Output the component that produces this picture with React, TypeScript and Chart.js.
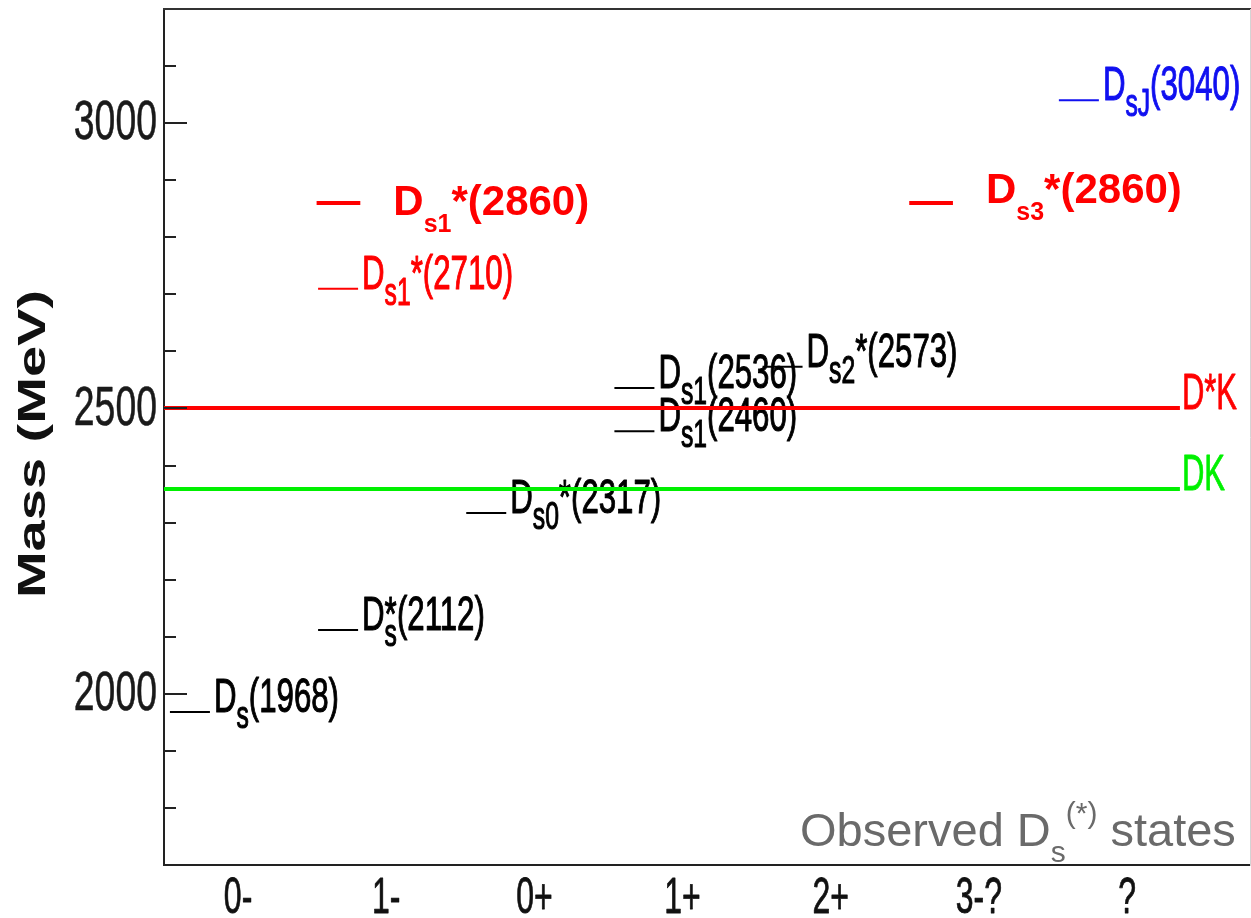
import React, { useEffect, useRef } from 'react';
import { Chart, registerables } from 'chart.js';

Chart.register(...registerables);

// ---------- data ----------
const categories = ['0-', '1-', '0+', '1+', '2+', '3-?', '?'];
const yMajorTicks = [2000, 2500, 3000];
const yMinorTicks = [1800, 1900, 2100, 2200, 2300, 2400, 2600, 2700, 2800, 2900, 3100];

const stateLabels = [
  'D_{s}(1968)',
  'D^{*}_{s}(2112)',
  'D_{s0}*(2317)',
  'D_{s1}(2460)',
  'D_{s1}(2536)',
  'D_{s2}*(2573)',
  'D_{s1}*(2710)',
  'D_{s1}*(2860)',
  'D_{s3}*(2860)',
  'D_{sJ}(3040)',
];
const stateMasses = [1968, 2112, 2317, 2460, 2536, 2573, 2710, 2860, 2860, 3040];
const stateCategory = [0, 1, 2, 3, 3, 4, 1, 1, 5, 6];

const thresholdLabels = ['D*K', 'DK'];
const thresholdMasses = [2501, 2359];

const yAxisTitle = 'Mass (MeV)';
const noteText = 'Observed D_{s}^{(*)} states';

// ---------- styles ----------
const stateColors = ['#000000', '#000000', '#000000', '#000000', '#000000', '#000000', '#ff0000', '#ff0000', '#ff0000', '#1010f0'];
const stateBold = [false, false, false, false, false, false, false, true, true, false];
const stateLabelDy = [0, 0, 0, 0, 0, 0, 0, 12, 0, 0];
const thresholdColors = ['#ff0000', '#00f000'];

const FAMILY = '"Liberation Sans", Arial, Helvetica, sans-serif';

type RichStyle = {
  weight: string;
  size: number;
  sx: number;
  subSize: number;
  subDrop: number;
  supSize: number;
  supRise: number;
  color: string;
  stroke: number;
};

const CONDENSED = { weight: 'normal', size: 48, sx: 0.65, subSize: 38, subDrop: 16, supSize: 48, supRise: 0, stroke: 1.1 };
const BOLDSTYLE = { weight: 'bold', size: 42, sx: 1, subSize: 25, subDrop: 17, supSize: 42, supRise: 0, stroke: 0 };
const NOTESTYLE = { weight: 'normal', size: 47, sx: 1, subSize: 30, subDrop: 16, supSize: 30, supRise: 23, stroke: 0 };

type Seg = { t: string; kind: 'n' | 'sub' | 'sup' };

function parseRich(s: string): Seg[] {
  const out: Seg[] = [];
  let buf = '';
  let i = 0;
  while (i < s.length) {
    const c = s[i];
    if ((c === '_' || c === '^') && s[i + 1] === '{') {
      if (buf) {
        out.push({ t: buf, kind: 'n' });
        buf = '';
      }
      const end = s.indexOf('}', i);
      out.push({ t: s.slice(i + 2, end), kind: c === '_' ? 'sub' : 'sup' });
      i = end + 1;
    } else {
      buf += c;
      i++;
    }
  }
  if (buf) out.push({ t: buf, kind: 'n' });
  return out;
}

function paintText(ctx: CanvasRenderingContext2D, t: string, x: number, y: number, stroke: number) {
  ctx.fillText(t, x, y);
  if (stroke > 0) {
    ctx.lineWidth = stroke;
    ctx.lineJoin = 'round';
    ctx.strokeText(t, x, y);
  }
}

function drawRich(ctx: CanvasRenderingContext2D, text: string, x: number, y: number, st: RichStyle) {
  const segs = parseRich(text);
  ctx.save();
  ctx.translate(x, y);
  ctx.scale(st.sx, 1);
  ctx.fillStyle = st.color;
  ctx.strokeStyle = st.color;
  ctx.textAlign = 'left';
  ctx.textBaseline = 'alphabetic';
  let cx = 0;
  let scriptStart = 0;
  let scriptEnd = 0;
  let prev: string | null = null;
  for (const seg of segs) {
    if (seg.kind === 'n') {
      if (prev === 'sub' || prev === 'sup') cx = scriptEnd;
      ctx.font = `${st.weight} ${st.size}px ${FAMILY}`;
      paintText(ctx, seg.t, cx, 0, st.stroke);
      cx += ctx.measureText(seg.t).width;
      scriptEnd = cx;
    } else {
      if (prev === 'sup' && seg.kind === 'sub') {
        cx = scriptStart;
      } else {
        if (prev === 'sub' || prev === 'sup') cx = scriptEnd;
        scriptStart = cx;
        scriptEnd = cx;
      }
      const size = seg.kind === 'sub' ? st.subSize : st.supSize;
      const dy = seg.kind === 'sub' ? st.subDrop : -st.supRise;
      ctx.font = `${st.weight} ${size}px ${FAMILY}`;
      paintText(ctx, seg.t, cx, dy, st.stroke);
      cx += ctx.measureText(seg.t).width;
      scriptEnd = Math.max(scriptEnd, cx);
    }
    prev = seg.kind;
  }
  ctx.restore();
}

function drawCondensed(
  ctx: CanvasRenderingContext2D,
  text: string,
  x: number,
  y: number,
  size: number,
  sx: number,
  align: CanvasTextAlign,
  baseline: CanvasTextBaseline,
  color: string,
  stroke = 0,
  weight = 'normal'
) {
  ctx.save();
  ctx.translate(x, y);
  ctx.scale(sx, 1);
  ctx.font = `${weight} ${size}px ${FAMILY}`;
  ctx.fillStyle = color;
  ctx.strokeStyle = color;
  ctx.textAlign = align;
  ctx.textBaseline = baseline;
  paintText(ctx, text, 0, 0, stroke);
  ctx.restore();
}

const N_STATES = stateMasses.length;

const labelPlugin = {
  id: 'levelLabels',
  beforeDatasetsDraw(chart: any) {
    const ctx: CanvasRenderingContext2D = chart.ctx;
    for (let i = 0; i < N_STATES; i++) {
      const meta = chart.getDatasetMeta(i);
      const end = meta.data[1];
      if (!end) continue;
      if (stateBold[i]) {
        drawRich(ctx, stateLabels[i], end.x + 33, end.y + stateLabelDy[i], { ...BOLDSTYLE, color: stateColors[i] });
      } else {
        drawRich(ctx, stateLabels[i], end.x + 4, end.y + stateLabelDy[i], { ...CONDENSED, color: stateColors[i] });
      }
    }
    for (let j = 0; j < thresholdMasses.length; j++) {
      const meta = chart.getDatasetMeta(N_STATES + j);
      const end = meta.data[1];
      if (!end) continue;
      drawCondensed(ctx, thresholdLabels[j], end.x + 2, end.y + 1, 50, 0.62, 'left', 'alphabetic', thresholdColors[j], 0.9);
    }
  },
  afterDraw(chart: any) {
    const ctx: CanvasRenderingContext2D = chart.ctx;
    const ys = chart.scales.y;
    const xs = chart.scales.x;
    const area = chart.chartArea;
    ctx.save();
    ctx.strokeStyle = '#222222';
    ctx.lineWidth = 2;
    for (const v of yMinorTicks) {
      const py = Math.round(ys.getPixelForValue(v));
      ctx.beginPath();
      ctx.moveTo(area.left, py);
      ctx.lineTo(area.left + 12, py);
      ctx.stroke();
    }
    for (const v of yMajorTicks) {
      const py = Math.round(ys.getPixelForValue(v));
      ctx.beginPath();
      ctx.moveTo(area.left, py);
      ctx.lineTo(area.left + 23, py);
      ctx.stroke();
    }
    ctx.restore();
    for (const v of yMajorTicks) {
      drawCondensed(ctx, String(v), area.left - 7, ys.getPixelForValue(v) + 1, 55, 0.68, 'right', 'middle', '#1a1a1a', 0.6);
    }
    categories.forEach((c, i) => {
      drawCondensed(ctx, c, xs.getPixelForValue(i), area.bottom + 48, 50, 0.64, 'center', 'alphabetic', '#111111', 0.8);
    });
    ctx.save();
    ctx.translate(35, 444);
    ctx.scale(0.68, 1);
    ctx.rotate(-Math.PI / 2);
    ctx.font = `bold 56px ${FAMILY}`;
    ctx.fillStyle = '#111111';
    ctx.textAlign = 'center';
    ctx.textBaseline = 'middle';
    ctx.fillText(yAxisTitle, 0, 0);
    ctx.restore();
    drawRich(ctx, noteText, 800, 846, { ...NOTESTYLE, color: '#6a6a6a' });
  },
};

export default function App() {
  const ref = useRef<HTMLCanvasElement>(null);

  useEffect(() => {
    const canvas = ref.current;
    if (!canvas) return;

    const stateDatasets = stateMasses.map((m, i) => {
      const c = stateCategory[i];
      const bold = stateBold[i];
      return {
        type: 'line' as const,
        label: stateLabels[i],
        data: [
          { x: c + (bold ? -0.47 : -0.46), y: m },
          { x: c + (bold ? -0.175 : -0.19), y: m },
        ],
        borderColor: stateColors[i],
        backgroundColor: stateColors[i],
        borderWidth: bold ? 4 : 2,
        borderCapStyle: 'butt' as const,
        pointRadius: 0,
        xAxisID: 'x',
        yAxisID: 'y',
      };
    });

    const thresholdDatasets = thresholdMasses.map((m, j) => ({
      type: 'line' as const,
      label: thresholdLabels[j],
      data: [
        { x: -0.5, y: m },
        { x: 6.357, y: m },
      ],
      borderColor: thresholdColors[j],
      backgroundColor: thresholdColors[j],
      borderWidth: 4,
      borderCapStyle: 'butt' as const,
      pointRadius: 0,
      xAxisID: 'x',
      yAxisID: 'y',
    }));

    const hidden = { display: false };
    const chart = new Chart(canvas, {
      type: 'line',
      data: { datasets: [...stateDatasets, ...thresholdDatasets] as any },
      options: {
        animation: false,
        responsive: false,
        events: [],
        layout: { padding: { left: 164, top: 9, right: 1, bottom: 53 } },
        plugins: { legend: { display: false }, tooltip: { enabled: false } },
        scales: {
          x: {
            type: 'linear',
            position: 'bottom',
            min: -0.5,
            max: 6.83,
            grid: { display: false, drawTicks: false },
            ticks: { display: false },
            border: { display: true, color: '#222222', width: 2 },
          },
          y: {
            type: 'linear',
            position: 'left',
            min: 1700,
            max: 3200,
            grid: { display: false, drawTicks: false },
            ticks: { display: false },
            border: { display: true, color: '#222222', width: 2 },
          },
          xTop: {
            type: 'linear',
            axis: 'x',
            position: 'top',
            grid: { display: false, drawTicks: false },
            ticks: { display: false },
            title: hidden,
            border: { display: true, color: '#333333', width: 2 },
          },
          yRight: {
            type: 'linear',
            axis: 'y',
            position: 'right',
            grid: { display: false, drawTicks: false },
            ticks: { display: false },
            title: hidden,
            border: { display: true, color: '#d4d4d4', width: 1 },
          },
        } as any,
      },
      plugins: [labelPlugin],
    });

    return () => {
      chart.destroy();
    };
  }, []);

  return (
    <div style={{ position: 'absolute', left: 0, top: 0, width: 1251, height: 918, background: '#ffffff' }}>
      <canvas ref={ref} width={1251} height={918} style={{ display: 'block' }} />
    </div>
  );
}
